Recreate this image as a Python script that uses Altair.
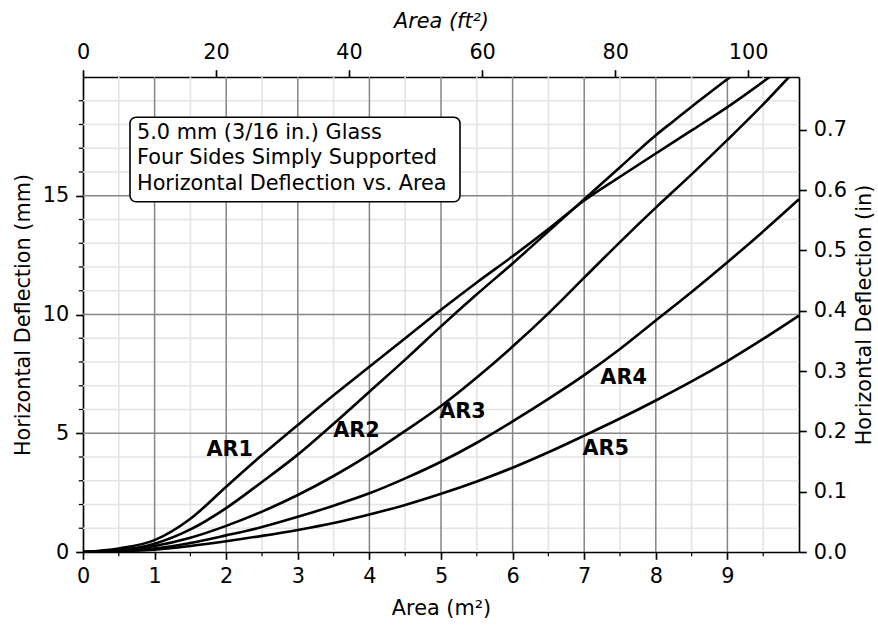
import altair as alt
import pandas as pd

# Horizontal deflection (mm) against glass area (m²) for aspect ratios AR1..AR5
ar1_area = [0, 0.5, 1, 1.5, 2, 2.5, 3, 3.5, 4, 4.5, 5, 5.5, 6, 6.5, 7, 7.5, 8, 8.5, 9, 9.59]
ar1_defl = [0, 0.15, 0.5, 1.4, 2.75, 4.08, 5.35, 6.6, 7.8, 9.0, 10.2, 11.35, 12.45, 13.6, 14.8, 15.8, 16.78, 17.75, 18.73, 20.0]

ar2_area = [0, 0.5, 1, 1.5, 2, 2.5, 3, 3.5, 4, 4.5, 5, 5.5, 6, 6.5, 7, 7.5, 8, 8.25, 8.5, 9.04]
ar2_defl = [0, 0.08, 0.35, 0.95, 1.85, 2.95, 4.1, 5.4, 6.75, 8.1, 9.5, 10.85, 12.15, 13.5, 14.85, 16.2, 17.55, 18.15, 18.75, 20.0]

ar3_area = [0, 0.5, 1, 1.5, 2, 2.5, 3, 3.5, 4, 4.5, 5, 5.5, 6, 6.5, 7, 7.5, 8, 8.5, 9, 9.5, 9.86]
ar3_defl = [0, 0.05, 0.25, 0.6, 1.1, 1.7, 2.4, 3.2, 4.1, 5.1, 6.15, 7.35, 8.65, 10.05, 11.55, 13.05, 14.5, 15.9, 17.35, 18.85, 20.0]

ar4_area = [0, 0.5, 1, 1.5, 2, 2.5, 3, 3.5, 4, 4.5, 5, 5.5, 6, 6.5, 7, 7.5, 8, 8.5, 9, 9.5, 10]
ar4_defl = [0, 0.03, 0.15, 0.38, 0.7, 1.05, 1.48, 1.95, 2.47, 3.1, 3.8, 4.6, 5.5, 6.45, 7.45, 8.55, 9.75, 10.95, 12.2, 13.5, 14.85]

ar5_area = [0, 0.5, 1, 1.5, 2, 2.5, 3, 3.5, 4, 4.5, 5, 5.5, 6, 6.5, 7, 7.5, 8, 8.5, 9, 9.5, 10]
ar5_defl = [0, 0.03, 0.1, 0.25, 0.45, 0.68, 0.93, 1.22, 1.58, 1.98, 2.45, 2.97, 3.55, 4.2, 4.9, 5.62, 6.38, 7.18, 8.04, 8.97, 9.95]

# Curve labels and where they sit (data units)
label_text = ["AR1", "AR2", "AR3", "AR4", "AR5"]
label_x = [2.05, 3.82, 5.30, 7.55, 7.30]
label_y = [4.29, 5.08, 5.89, 7.34, 4.32]

# Tick values
x_major = [0, 1, 2, 3, 4, 5, 6, 7, 8, 9]
x_minor = [0.5, 1.5, 2.5, 3.5, 4.5, 5.5, 6.5, 7.5, 8.5, 9.5]
y_major = [0, 5, 10, 15]
y_minor = [1, 2, 3, 4, 6, 7, 8, 9, 11, 12, 13, 14, 16, 17, 18, 19]
ft2_ticks = [0, 20, 40, 60, 80, 100]
inch_ticks = [0.0, 0.1, 0.2, 0.3, 0.4, 0.5, 0.6, 0.7]

box_lines = ["5.0 mm (3/16 in.) Glass", "Four Sides Simply Supported", "Horizontal Deflection vs. Area"]

X_MAX, Y_MAX = 10, 20
M2_TO_FT2 = 10.7639
MM_PER_IN = 25.4

W, H = 716, 475
FONT = "DejaVu Sans"
FS = 20.8

curves = pd.concat([
    pd.DataFrame({"area": a, "defl": d, "ratio": name})
    for name, a, d in [
        ("AR1", ar1_area, ar1_defl),
        ("AR2", ar2_area, ar2_defl),
        ("AR3", ar3_area, ar3_defl),
        ("AR4", ar4_area, ar4_defl),
        ("AR5", ar5_area, ar5_defl),
    ]
])
labels = pd.DataFrame({"label": label_text, "lx": label_x, "ly": label_y})

x_scale = alt.Scale(domain=[0, X_MAX], nice=False, zero=False)
y_scale = alt.Scale(domain=[0, Y_MAX], nice=False, zero=False)

x_axis = alt.Axis(orient="bottom", values=x_major, format="d", title="Area (m²)",
                  titlePadding=12)
y_axis = alt.Axis(orient="left", values=y_major, format="d",
                  title="Horizontal Deflection (mm)", titlePadding=9)


def X(field):
    return alt.X(field, type="quantitative", scale=x_scale, axis=x_axis)


def Y(field):
    return alt.Y(field, type="quantitative", scale=y_scale, axis=y_axis)


grid_minor_v = alt.Chart(pd.DataFrame({"x": x_minor})).mark_rule(
    color="#e4e4e4", strokeWidth=1.6).encode(x=X("x"))
grid_minor_h = alt.Chart(pd.DataFrame({"y": y_minor})).mark_rule(
    color="#e4e4e4", strokeWidth=1.6).encode(y=Y("y"))
grid_major_v = alt.Chart(pd.DataFrame({"x": x_major[1:]})).mark_rule(
    color="#858585", strokeWidth=1.5).encode(x=X("x"))
grid_major_h = alt.Chart(pd.DataFrame({"y": y_major[1:]})).mark_rule(
    color="#858585", strokeWidth=1.5).encode(y=Y("y"))

lines = alt.Chart(curves).mark_line(
    color="black", strokeWidth=2.6, clip=True, interpolate="monotone"
).encode(x=X("area"), y=Y("defl"), detail="ratio:N")

text_labels = alt.Chart(labels).mark_text(
    font=FONT, fontSize=FS, fontWeight="bold", color="black",
    align="center", baseline="middle"
).encode(x=X("lx"), y=Y("ly"), text="label:N")

minor_ticks_x = alt.Chart(pd.DataFrame({"x": x_minor})).mark_rule(
    color="black", strokeWidth=1.25).encode(x=X("x"), y=alt.value(H), y2=alt.value(H + 4.2))
minor_ticks_y = alt.Chart(pd.DataFrame({"y": y_minor})).mark_rule(
    color="black", strokeWidth=1.25).encode(y=Y("y"), x=alt.value(-4.2), x2=alt.value(0))

box = alt.Chart(pd.DataFrame({"k": [0]})).mark_rect(
    fill="white", stroke="black", strokeWidth=1.6, cornerRadius=6
).encode(x=alt.value(47), x2=alt.value(377), y=alt.value(40.3), y2=alt.value(124.7))

box_text = alt.Chart(pd.DataFrame({"k": [0]})).mark_text(
    text=box_lines, font=FONT, fontSize=FS, color="black", align="left",
    baseline="alphabetic", lineHeight=25.7
).encode(x=alt.value(54), y=alt.value(61.7))

main = alt.layer(
    grid_minor_v, grid_minor_h, grid_major_v, grid_major_h,
    lines, text_labels, minor_ticks_x, minor_ticks_y, box, box_text
)

# Secondary axes: square feet on top, inches on the right
top_axis = alt.Chart(pd.DataFrame({"ft": [0.0]})).mark_rule(opacity=0).encode(
    x=alt.X("ft:Q", scale=alt.Scale(domain=[0, X_MAX * M2_TO_FT2], nice=False, zero=False),
            axis=alt.Axis(orient="top", values=ft2_ticks, format="d", title="Area (ft²)",
                          titleFontStyle="italic", titlePadding=10))
)
right_axis = alt.Chart(pd.DataFrame({"inch": [0.0]})).mark_rule(opacity=0).encode(
    y=alt.Y("inch:Q", scale=alt.Scale(domain=[0, Y_MAX / MM_PER_IN], nice=False, zero=False),
            axis=alt.Axis(orient="right", values=inch_ticks, format=".1f",
                          title="Horizontal Deflection (in)", titleAngle=270,
                          titleBaseline="top", titlePadding=8))
)

chart = alt.layer(main, top_axis, right_axis).resolve_scale(
    x="independent", y="independent"
).properties(
    width=W, height=H,
    autosize=alt.AutoSizeParams(type="none"),
    padding={"left": 83, "top": 77, "right": 79, "bottom": 75},
    background="white",
).configure_axis(
    labelFont=FONT, titleFont=FONT, labelFontSize=FS, titleFontSize=FS,
    titleFontWeight="normal", labelColor="black", titleColor="black",
    tickColor="black", domainColor="black", domainWidth=1.67, tickWidth=1.67,
    tickSize=7.3, labelPadding=7, grid=False, labelFlush=False, labelOverlap=False,
).configure_view(stroke=None)

chart.save("out.html", embed_options={"renderer": "svg", "actions": False})
